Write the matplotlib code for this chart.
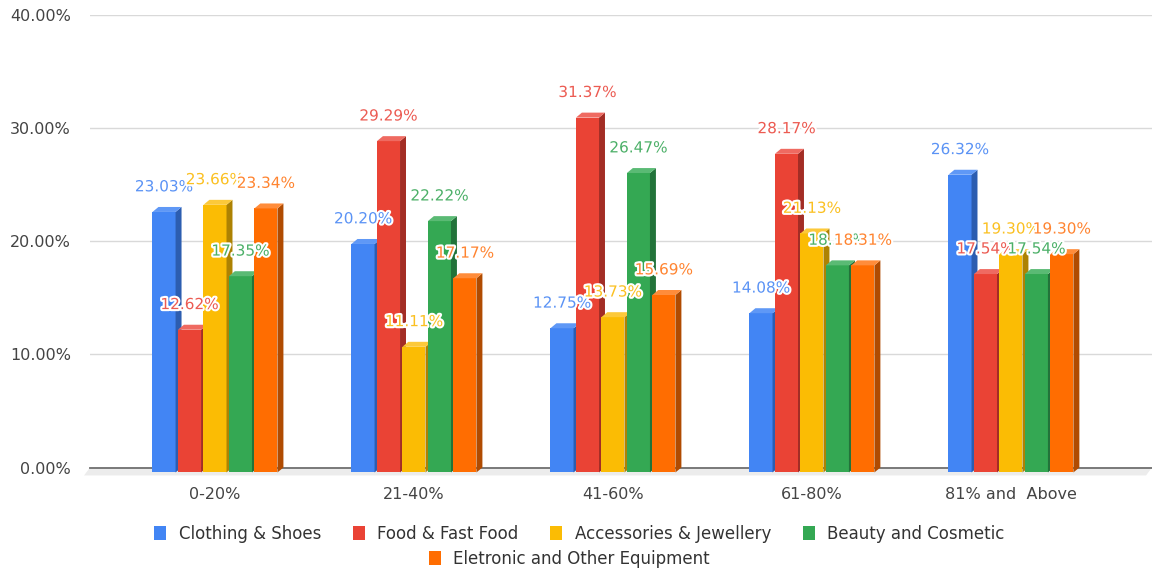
import numpy as np
import matplotlib.pyplot as plt
import matplotlib.patheffects as pe
from matplotlib.patches import Polygon, Patch

plt.rcParams['font.family'] = ['DejaVu Sans']

groups = ['0-20%', '21-40%', '41-60%', '61-80%', '81% and  Above']
series = ['Clothing & Shoes', 'Food & Fast Food', 'Accessories & Jewellery',
          'Beauty and Cosmetic', 'Eletronic and Other Equipment']

clothing = [23.03, 20.20, 12.75, 14.08, 26.32]
food = [12.62, 29.29, 31.37, 28.17, 17.54]
accessories = [23.66, 11.11, 13.73, 21.13, 19.30]
beauty = [17.35, 22.22, 26.47, 18.31, 17.54]
electronic = [23.34, 17.17, 15.69, 18.31, 19.30]
values = [clothing, food, accessories, beauty, electronic]

yticks = [0, 10, 20, 30, 40]

# face colours: front / side / top
front = ['#4285f4', '#ea4335', '#fbbc04', '#34a853', '#ff6d01']
side = ['#2c5db0', '#a32d25', '#ad8203', '#22733a', '#b04b01']
top = ['#5f98f6', '#ef6a61', '#fcc93a', '#5aba74', '#ff8c3a']
label_col = ['#5b93f5', '#ec5b52', '#fbc021', '#4cb068', '#ff8430']

# 3d box geometry (x in group units, depth in y units)
pitch = 0.128
w = 0.116
dx = 0.03
dz = 0.44

W, H = 1152, 571
fig = plt.figure(figsize=(W / 100, H / 100), dpi=100)
ax = fig.add_axes([90 / W, 1 - 467.5 / H, 1062 / W, 452.5 / H])
ax.set_xlim(-0.628, 4.709)
ax.set_ylim(0, 40)

for s in ax.spines.values():
    s.set_visible(False)

for t in yticks[1:]:
    ax.axhline(t, color='#d9d9d9', lw=1, zorder=0)

# floor strip under the baseline
x0, x1 = ax.get_xlim()
ax.add_patch(Polygon([(x0, 0), (x1, 0), (x1 - dx, -dz * 1.6), (x0 - dx, -dz * 1.6)],
                     closed=True, facecolor='#ececec', edgecolor='none',
                     clip_on=False, zorder=1))
ax.axhline(0, color='#6f6f6f', lw=1.3, zorder=2, clip_on=False)

xs = np.arange(len(groups))
for i, vals in enumerate(values):
    x = xs + (i - 2) * pitch
    z = 3 + i
    ax.bar(x, vals, width=w, bottom=-dz, color=front[i], linewidth=0,
           zorder=z, clip_on=False)
    for xi, v in zip(x, vals):
        r = xi + w / 2
        l = xi - w / 2
        ax.add_patch(Polygon([(r, -dz), (r + dx, 0), (r + dx, v), (r, v - dz)],
                             closed=True, facecolor=side[i], edgecolor='none',
                             zorder=z, clip_on=False))
        ax.add_patch(Polygon([(l, v - dz), (r, v - dz), (r + dx, v), (l + dx, v)],
                             closed=True, facecolor=top[i], edgecolor='none',
                             zorder=z, clip_on=False))
        ax.annotate(f'{v:.2f}%', (xi, v), xytext=(0, 14.5), textcoords='offset points',
                    ha='center', va='center', fontsize=11, color=label_col[i],
                    path_effects=[pe.withStroke(linewidth=3, foreground='white')],
                    zorder=20 + i)

ax.set_xticks(xs)
ax.set_xticklabels(groups)
ax.set_yticks(yticks)
ax.set_yticklabels([f'{t:.2f}%' for t in yticks])
ax.tick_params(axis='both', length=0, labelsize=11.5, labelcolor='#444444')
ax.tick_params(axis='y', pad=13.7)
ax.tick_params(axis='x', pad=14)

handles = [Patch(facecolor=c, edgecolor='none') for c in front]
leg_kw = dict(frameon=False, fontsize=12, handlelength=0.72, handleheight=0.9,
              handletextpad=0.75, columnspacing=1.9, labelcolor='#333333',
              loc='center')
fig.legend(handles[:4], series[:4], ncol=4, bbox_to_anchor=(0.503, 1 - 534 / H), **leg_kw)
fig.legend(handles[4:], series[4:], ncol=1, bbox_to_anchor=(0.494, 1 - 559 / H), **leg_kw)

fig.savefig('out.png', dpi=100)
